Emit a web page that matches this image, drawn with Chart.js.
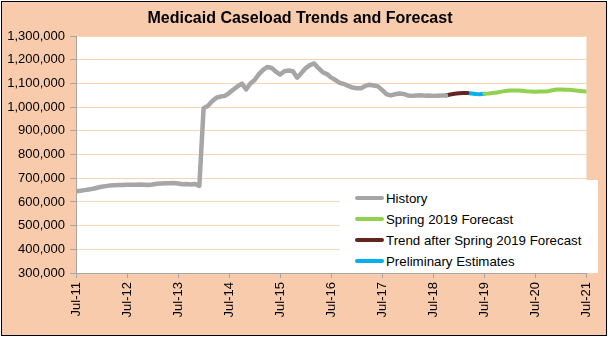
<!DOCTYPE html>
<html>
<head>
<meta charset="utf-8">
<script src="https://cdn.jsdelivr.net/npm/chart.js@4/dist/chart.umd.min.js"></script>
<style>
  body { margin: 0; background: #fff; }
  #frame {
    position: absolute; left: 1px; top: 1px;
    width: 604px; height: 333px;
    border: 1px solid #000;
    background: #F8CBAD;
  }
  #caseChart { display: block; }
  #legend {
    position: absolute; left: 338px; top: 178px;
    width: 258px; height: 93px;
    background: #fff;
    font: 13.3px "Liberation Sans", Arial, sans-serif;
    color: #000;
  }
  .row { position: absolute; left: 15px; height: 16px; display: flex; align-items: center; white-space: nowrap; }
  .swatch { width: 29px; height: 4px; border-radius: 2px; margin-right: 2px; }
</style>
</head>
<body>
<div id="frame">
  <canvas id="caseChart" width="604" height="333"></canvas>
  <div id="legend"></div>
</div>
<script>
// ---------------- DATA ----------------

// x axis is months counted from Jul-11; only the Julys get a label
const tickLabels = ["Jul-11", "Jul-12", "Jul-13", "Jul-14", "Jul-15", "Jul-16",
                    "Jul-17", "Jul-18", "Jul-19", "Jul-20", "Jul-21"];

// History, Jul-11 .. Oct-18
const historyStart = 0;
const historyValues = [
    645000, 647000, 650000, 653000, 656000, 660000, 664000, 667000, 670000, 671000, 672000, 672000,
    673000, 673000, 673000, 674000, 673000, 672000, 674000, 677000, 678000, 679000, 679000, 680000,
    678000, 675000, 676000, 674000, 676000, 668000, 996000, 1005000, 1025000, 1040000, 1045000, 1048000,
    1060000, 1075000, 1088000, 1100000, 1075000, 1100000, 1115000, 1140000, 1158000, 1170000, 1166000, 1150000,
    1138000, 1152000, 1155000, 1152000, 1125000, 1145000, 1165000, 1178000, 1185000, 1165000, 1148000, 1140000,
    1125000, 1115000, 1103000, 1098000, 1090000, 1083000, 1080000, 1080000, 1090000, 1095000, 1092000, 1088000,
    1072000, 1055000, 1050000, 1055000, 1058000, 1056000, 1050000, 1048000, 1050000, 1051000, 1049000, 1050000,
    1048000, 1049000, 1050000, 1050000
];

// Trend after Spring 2019 Forecast, Oct-18 .. Mar-19
const trendStart = 87;
const trendValues = [1050000, 1054000, 1057000, 1059000, 1060000, 1060000];

// Preliminary Estimates, Mar-19 .. Jul-19
const prelimStart = 92;
const prelimValues = [1060000, 1058000, 1056000, 1055000, 1057000];

// Spring 2019 Forecast, Jul-19 .. Jul-21
const forecastStart = 96;
const forecastValues = [
    1057000, 1058000, 1060000, 1062000, 1066000, 1069000, 1071000, 1071000, 1071000, 1070000, 1067000, 1066000,
    1065000, 1066000, 1066000, 1068000, 1072000, 1075000, 1075000, 1074000, 1074000, 1072000, 1070000, 1068000,
    1066000
];

function toPoints(start, values) {
    return values.map((v, i) => ({ x: start + i, y: v }));
}

// ---------------- LINE CHART ----------------

const FONT = "'Liberation Sans', Arial, sans-serif";

const lineStyle = {
    fill: false,
    tension: 0,
    pointRadius: 0,
    borderCapStyle: "round",
    borderJoinStyle: "round"
};

// white plot area on the peach frame
const plotBackground = {
    id: "plotBackground",
    beforeDraw(chart) {
        const { ctx, chartArea: a } = chart;
        ctx.save();
        ctx.fillStyle = "#fff";
        ctx.fillRect(a.left, a.top, a.right - a.left, a.bottom - a.top);
        ctx.restore();
    }
};

const caseCtx = document.getElementById("caseChart");

const caseChart = new Chart(caseCtx, {
    type: "line",
    data: {
        datasets: [
            { ...lineStyle, label: "History", data: toPoints(historyStart, historyValues),
              borderColor: "#A6A6A6", borderWidth: 4.5 },
            { ...lineStyle, label: "Spring 2019 Forecast", data: toPoints(forecastStart, forecastValues),
              borderColor: "#92D050", borderWidth: 4 },
            { ...lineStyle, label: "Trend after Spring 2019 Forecast", data: toPoints(trendStart, trendValues),
              borderColor: "#632523", borderWidth: 4 },
            { ...lineStyle, label: "Preliminary Estimates", data: toPoints(prelimStart, prelimValues),
              borderColor: "#00B0F0", borderWidth: 4 }
        ]
    },
    plugins: [plotBackground],
    options: {
        responsive: false,
        animation: false,
        layout: { padding: { left: 0, right: 8, top: 0, bottom: 0 } },
        plugins: {
            legend: { display: false },
            tooltip: { enabled: false },
            title: {
                display: true,
                text: "Medicaid Caseload Trends and Forecast",
                color: "#000",
                font: { family: FONT, size: 16, weight: "bold" },
                padding: { top: 7, bottom: 8 }
            }
        },
        scales: {
            x: {
                type: "linear",
                min: 0,
                max: 120,
                afterFit: s => { s.height = 62; },
                grid: { drawOnChartArea: false, tickLength: 5, tickColor: "#A6A6A6" },
                border: { color: "#A6A6A6", width: 1 },
                ticks: {
                    stepSize: 12,
                    autoSkip: false,
                    minRotation: 90,
                    maxRotation: 90,
                    padding: 4,
                    color: "#000",
                    font: { family: FONT, size: 13 },
                    callback: v => tickLabels[v / 12]
                }
            },
            y: {
                min: 300000,
                max: 1300000,
                afterFit: s => { s.width = 74; },
                grid: { color: "#FBD4B4", tickLength: 6, tickColor: "#A6A6A6" },
                border: { color: "#A6A6A6", width: 1 },
                ticks: {
                    stepSize: 100000,
                    padding: 5,
                    color: "#000",
                    font: { family: FONT, size: 13 },
                    callback: v => v.toLocaleString("en-US")
                }
            }
        }
    }
});

// ---------------- LEGEND ----------------

const legendBox = document.getElementById("legend");
const rowTops = [18, 39, 60, 81];
caseChart.data.datasets.forEach((ds, i) => {
    const row = document.createElement("div");
    row.className = "row";
    row.style.top = (rowTops[i] - 8) + "px";
    const sw = document.createElement("span");
    sw.className = "swatch";
    sw.style.background = ds.borderColor;
    const txt = document.createElement("span");
    txt.textContent = ds.label;
    row.appendChild(sw);
    row.appendChild(txt);
    legendBox.appendChild(row);
});
</script>
</body>
</html>
